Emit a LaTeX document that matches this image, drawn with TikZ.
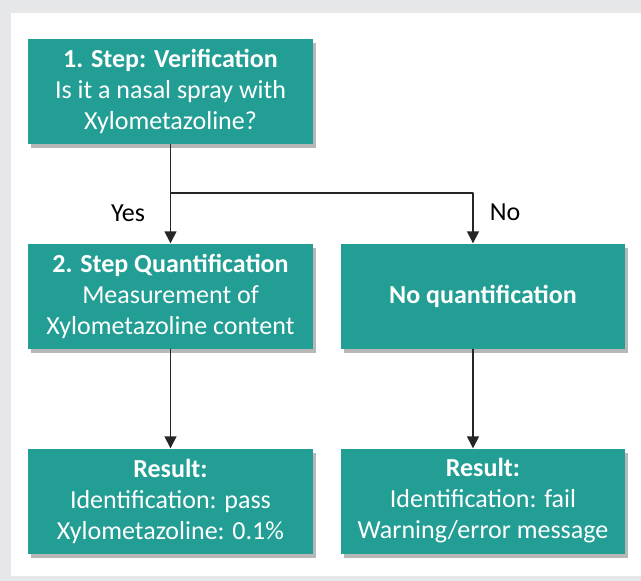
\documentclass[tikz,border=0pt]{standalone}
\usepackage{fontspec}
\setmainfont{Carlito}
\usetikzlibrary{arrows.meta,shadows}
\definecolor{teal}{RGB}{34,158,149}
\definecolor{bggray}{RGB}{230,231,232}
\tikzset{
  stepbox/.style={fill=teal, text=white, align=center, inner sep=0pt,
    minimum width=285pt, minimum height=105pt,
    drop shadow={shadow xshift=3pt, shadow yshift=-4pt, opacity=0.35, fill=black!80}},
  flow/.style={line width=1.4pt, color=black!85},
}
\begin{document}
\begin{tikzpicture}[x=1pt,y=-1pt,font=\fontsize{26}{31}\selectfont, line join=round, >={Triangle[length=12pt,width=12pt]}]
		% background and white panel
		\fill[bggray] (0,0) rectangle (641,581);
		\fill[white] (11,13) rectangle (641,576);
		\useasboundingbox (0,0) rectangle (641,581);
		% boxes
		\node[stepbox] (verify) at (170.5,91.5) {\textbf{1. Step: Verification}\\Is it a nasal spray with\\Xylometazoline?};
		\node[stepbox] (quant) at (170.5,296) {\textbf{2. Step Quantification}\\Measurement of\\Xylometazoline content};
		\node[stepbox, minimum width=284pt] (noquant) at (483,296) {\textbf{No quantification}};
		\node[stepbox] (pass) at (170.5,501) {\textbf{Result:}\\Identification: pass\\Xylometazoline: 0.1\%};
		\node[stepbox, minimum width=284pt] (fail) at (483,501) {\textbf{Result:}\\Identification: fail\\Warning/error message};
		% connectors
		\coordinate (split) at (170.5,193);
		\draw[flow,->] (verify) -- (quant);
		\draw[flow,->] (split) -| ([xshift=-10pt]noquant.north);
		\draw[flow,->] (quant) -- (pass);
		\draw[flow,->] ([xshift=-10pt]noquant.south) -- ([xshift=-10pt]fail.north);
		% labels
		\node (yes) at (128,213) {Yes};
		\node (no) at (505,212) {No};
\end{tikzpicture}
\end{document}
